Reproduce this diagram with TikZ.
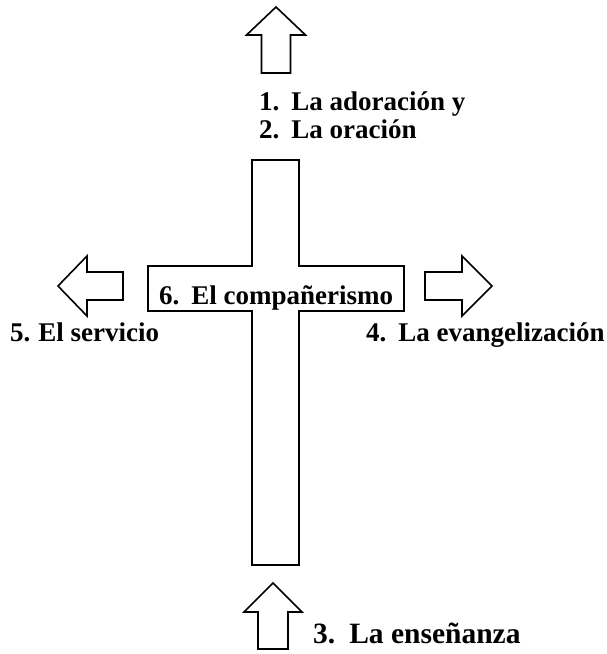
\documentclass[tikz,border=0pt]{standalone}
\usepackage{fontspec}
\setmainfont{Liberation Serif}
\begin{document}
\begin{tikzpicture}[x=1pt,y=-1pt,
  shapeline/.style={draw=black, line width=1.6pt, line join=miter},
  lbl/.style={anchor=base west, inner sep=0pt, font=\fontsize{27}{30}\selectfont\bfseries},
  biglbl/.style={lbl, font=\fontsize{29.5}{32}\selectfont\bfseries}]
\useasboundingbox (0,0) rectangle (606,654);
% cross
\draw[shapeline] (252,160) -- (299,160) -- (299,266) -- (404,266) -- (404,311) -- (299,311)
  -- (299,565) -- (252,565) -- (252,311) -- (148,311) -- (148,266) -- (252,266) -- cycle;
\node[lbl] (t6) at (159,304) {6.\hspace{12pt}El compañerismo};
% up arrow (top)
\draw[shapeline] (276,7) -- (305.5,35) -- (290.5,35) -- (290.5,73) -- (261.5,73) -- (261.5,35) -- (246.5,35) -- cycle;
% up arrow (bottom)
\draw[shapeline] (273,583) -- (302,612) -- (288,612) -- (288,649) -- (258,649) -- (258,612) -- (244,612) -- cycle;
% left arrow
\draw[shapeline] (58,286) -- (87,256) -- (87,272) -- (123,272) -- (123,300) -- (87,300) -- (87,316) -- cycle;
% right arrow
\draw[shapeline] (492,286) -- (462,256) -- (462,272) -- (425,272) -- (425,300) -- (462,300) -- (462,316) -- cycle;
% labels
\node[lbl] (t1) at (259,110) {1.\hspace{12pt}La adoración y};
\node[lbl] (t2) at (259,138) {2.\hspace{12pt}La oración};
\node[lbl] (t5) at (10,341) {5.\hspace{8pt}El servicio};
\node[lbl] (t4) at (366,341) {4.\hspace{12pt}La evangelización};
\node[biglbl] (t3) at (313,643) {3.\hspace{14pt}La enseñanza};
\end{tikzpicture}
\end{document}
